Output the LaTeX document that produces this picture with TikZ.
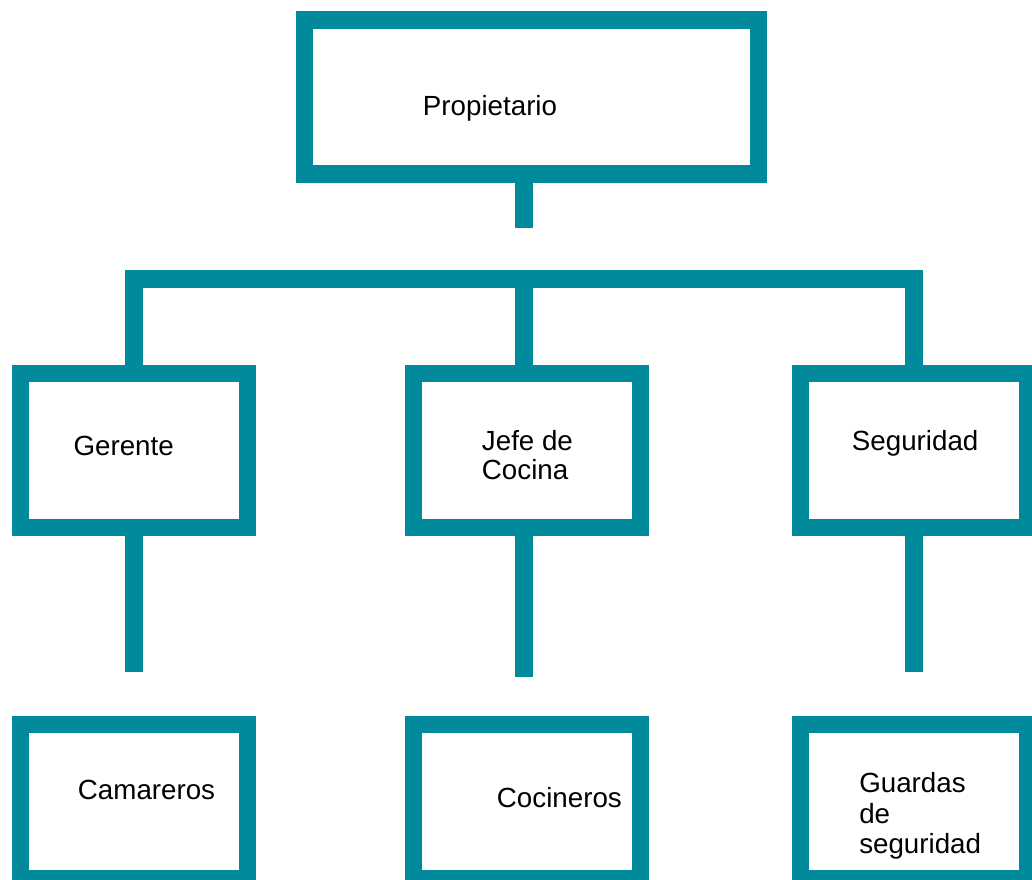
\documentclass[tikz,border=0pt]{standalone}
\usepackage{fontspec}
\setmainfont{Liberation Sans}
\usetikzlibrary{positioning}
\definecolor{orgteal}{RGB}{0,138,155}

\begin{document}
\begin{tikzpicture}[
  x=0.75pt,y=-0.75pt,
  font=\fontsize{20.8}{23.3}\selectfont,
  box/.style={draw=orgteal,line width=13.1pt,minimum width=170.25pt,minimum height=115.8pt,inner sep=0pt},
  link/.style={draw=orgteal,line width=13.1pt},
  txt/.style={inner sep=0pt,align=left},
]
\useasboundingbox (0,0) rectangle (1032,879);

% boxes
\node[box,minimum width=340.5pt,minimum height=115.5pt] (prop) at (531.5,97) {};
\node[box] (ger) at (133.8,450.5) {};
\node[box] (jefe) at (527,450.5) {};
\node[box] (seg) at (914,450.5) {};
\node[box] (cam) at (133.8,801.7) {};
\node[box] (coc) at (527,801.7) {};
\node[box] (gua) at (914,801.7) {};

% texts
\node[txt,anchor=base west] (tprop) at (422.7,115.7) {Propietario};
\node[txt,anchor=base west] (tger) at (73.3,455.5) {Gerente};
\node[txt,anchor=north west,font=\fontsize{20.8}{21.8}\selectfont] (tjefe) at (481.7,430) {Jefe de\\Cocina};
\node[txt,anchor=base west] (tseg) at (851.7,450) {Seguridad};
\node[txt,anchor=base west] (tcam) at (77.7,799.3) {Camareros};
\node[txt,anchor=base west] (tcoc) at (496.7,807.7) {Cocineros};
\node[txt,anchor=north west,font=\fontsize{20.8}{22.9}\selectfont] (tgua) at (859,772.5) {Guardas\\de\\seguridad};

% connectors
\coordinate (ptail) at (524,228);
\coordinate (barL) at (134,279);
\coordinate (barM) at (524,279);
\coordinate (barR) at (914,279);
\draw[link] (ptail |- prop.south) -- (ptail);
\draw[link] (barL |- ger.north) -- (barL) -- (barR) -- (seg.north);
\draw[link] (barM) -- (barM |- jefe.north);

\coordinate (gtail) at (134,671.7);
\coordinate (jtail) at (524,677);
\coordinate (stail) at (914,671.7);
\foreach \b/\t in {ger/gtail,jefe/jtail,seg/stail} {
  \draw[link] (\t |- \b.south) -- (\t);
}

\end{tikzpicture}
\end{document}
